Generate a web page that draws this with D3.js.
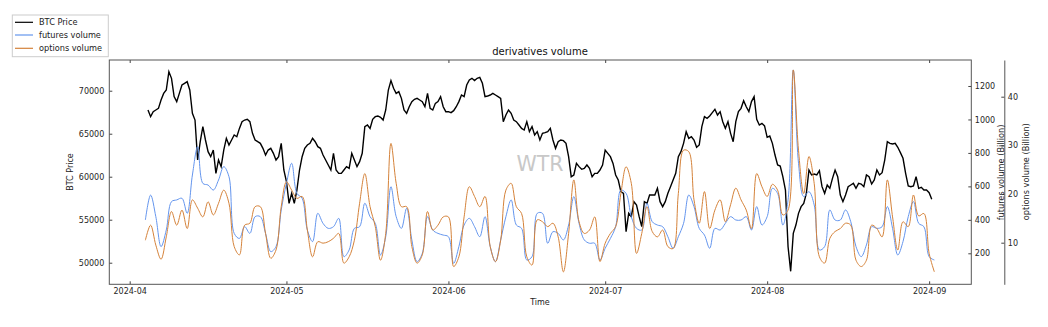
<!DOCTYPE html>
<html><head><meta charset="utf-8">
<script src="https://cdn.jsdelivr.net/npm/d3@7"></script>
<style>body{margin:0;background:#fff;} text{font-family:"DejaVu Sans",sans-serif;}</style>
</head><body><svg id="c" width="1048" height="327"></svg>
<script>
// ---- data ----
const priceStart = "2024-04-04T12:00:00Z";   // 12-hour samples
const priceStepHours = 12;
const btcPrice = [
67760,66980,67560,67760,67950,68920,69690,70080,72210,71440,
69310,68730,69690,70660,70860,71050,70080,67370,66590,61940,
64070,65820,64270,62910,62330,63100,60390,61940,61170,63100,
64460,63690,64270,64850,64650,65620,66400,66590,66670,66400,
65040,64270,64070,63880,63300,62520,63100,63300,62720,61940,
62330,63880,60780,59420,56900,58070,56900,58450,60780,62330,
63300,63690,63880,64460,64070,63490,63300,62520,61940,61360,
60780,62720,60780,60390,60390,60780,61170,60970,62720,61940,
61170,61750,62720,65820,66010,65620,66670,66980,67060,66900,
66590,67760,70080,71170,70280,69690,69890,69110,67760,67370,
68140,68730,69000,69110,68920,68730,68140,69690,67950,67760,
68530,68730,69310,68140,67560,67560,67450,67680,68140,68730,
69500,69310,70660,71240,71440,71170,71440,71550,70860,69310,
69380,69500,69690,69500,69310,69110,66400,67170,67760,67370,
66590,66400,66010,65620,65430,66400,65240,65820,64850,65240,
64270,65040,65120,65240,65620,64270,63300,64070,64270,64190,
63880,62330,60000,60200,61550,61170,60860,60970,61360,60970,
60000,60390,60390,60780,61360,63100,62720,62330,61550,60200,
59620,58260,58070,53610,55740,55350,57100,56710,55350,54190,
57100,56900,57870,57870,57870,58650,57100,56520,57100,58070,
58840,59620,60390,62330,62910,63880,65240,64460,64650,64270,
63420,63690,65820,66980,66790,67060,67450,67840,67170,67560,
66400,65620,66400,65040,64070,66400,67560,67950,68840,68140,
67560,68730,69310,66670,66010,66210,65900,64580,64730,63880,
62520,61360,61240,60000,58450,51860,49000,53410,54380,55740,
56520,56900,58070,60780,60200,60310,60200,60700,58840,58070,
59040,58650,59810,60780,60000,57870,57100,57870,58840,59040,
59230,58650,59230,59150,58840,60200,60000,59150,59620,60780,
60200,60470,61940,64070,63880,63800,63880,63420,62800,62140,
60390,58920,58840,58920,60000,58650,58760,58450,58450,58140,
57370];

const volStart = "2024-04-04T00:00:00Z";     // daily samples
const volStepHours = 24;
const futuresVolume = [
399,548,419,240,339,509,519,529,439,668,837,618,608,578,638,718,658,319,289,359,
319,419,419,319,210,240,459,618,738,558,529,339,270,439,379,349,359,409,
180,220,349,359,499,419,379,190,299,598,419,349,469,280,150,200,419,339,319,309,
299,140,240,369,409,359,299,419,240,150,280,419,519,369,349,160,180,439,
439,260,329,319,280,369,539,379,280,260,260,160,230,289,359,578,558,419,349,339,
499,389,369,359,299,230,299,379,548,479,349,309,230,349,339,379,419,399,
399,419,339,479,369,419,588,558,369,519,1296,738,539,568,489,220,240,459,399,399,
459,389,240,180,250,359,349,359,479,349,190,270,419,509,379,359,180,160];
const optionsVolume = [
10.5,13.6,9.5,6.6,11.2,16.4,13.6,16.7,12.9,18.8,17.1,15.3,18.4,15.7,18.1,20.8,18.1,9.2,7.5,13.6,
14.0,17.4,17.4,11.9,6.8,8.5,17.4,22.5,20.8,19.1,19.5,12.6,7.1,10.2,9.9,10.2,10.9,11.9,
5.8,7.1,10.5,18.1,24.2,17.4,13.3,6.4,11.9,30.4,22.2,17.4,17.4,9.2,5.8,7.5,16.4,12.6,13.6,15.3,
15.3,5.1,7.1,15.3,21.5,19.5,17.4,19.5,9.2,6.1,10.5,20.8,22.2,17.4,16.0,7.1,5.4,14.7,
14.3,13.3,14.0,11.2,4.0,11.9,22.9,14.3,11.9,12.6,15.3,6.1,9.9,11.9,13.3,20.1,25.6,22.2,7.8,11.9,
17.4,12.3,11.2,12.6,9.2,8.8,20.1,29.0,28.7,18.8,14.0,20.5,12.9,16.7,18.8,14.3,17.8,21.2,
18.8,16.7,12.9,24.2,21.5,19.5,22.0,20.8,15.7,16.7,45.5,29.0,20.1,27.7,22.2,7.1,5.8,10.9,12.3,12.9,
14.0,13.6,6.4,5.1,6.4,13.6,12.9,11.2,22.9,15.3,8.5,14.3,13.3,19.8,15.5,16.0,7.8,4.0];

const xTickLabels = ["2024-04","2024-05","2024-06","2024-07","2024-08","2024-09"];
const priceTicks = [50000,55000,60000,65000,70000];
const futuresTicks = [200,400,600,800,1000,1200];
const optionsTicks = [10,20,30,40];
const legendLabels = ["BTC Price","futures volume","options volume"];

// ---- layout ----
const L = 109.3, R = 971.3, T = 60, B = 284.3;
const colBTC = "#000000", colFut = "#6495ED", colOpt = "#d4823a";
const svg = d3.select("#c");

const t0 = new Date(priceStart).getTime();
const v0 = new Date(volStart).getTime();
const priceData = btcPrice.map((v,i)=>({d:new Date(t0+i*priceStepHours*3600e3), v}));
const futData = futuresVolume.map((v,i)=>({d:new Date(v0+i*volStepHours*3600e3), v}));
const optData = optionsVolume.map((v,i)=>({d:new Date(v0+i*volStepHours*3600e3), v}));

const x = d3.scaleUtc().domain([new Date("2024-03-28T02:18:00Z"), new Date("2024-09-09T01:40:00Z")]).range([L,R]);
const yP = d3.scaleLinear().domain([47490,73570]).range([B,T]);
const yF = d3.scaleLinear().domain([14.7,1355.4]).range([B,T]);
const yO = d3.scaleLinear().domain([1.45,47.54]).range([B,T]);

// lines
svg.append("clipPath").attr("id","clp").append("rect").attr("x",L).attr("y",T).attr("width",R-L).attr("height",B-T);
const g = svg.append("g").attr("clip-path","url(#clp)");
g.append("path").datum(priceData).attr("fill","none").attr("stroke",colBTC).attr("stroke-width",1.4)
  .attr("stroke-linejoin","miter").attr("d",d3.line().x(d=>x(d.d)).y(d=>yP(d.v)));
g.append("path").datum(futData).attr("fill","none").attr("stroke",colFut).attr("stroke-width",1)
  .attr("d",d3.line().curve(d3.curveCatmullRom.alpha(0.5)).x(d=>x(d.d)).y(d=>yF(d.v)));
g.append("path").datum(optData).attr("fill","none").attr("stroke",colOpt).attr("stroke-width",1)
  .attr("d",d3.line().curve(d3.curveCatmullRom.alpha(0.5)).x(d=>x(d.d)).y(d=>yO(d.v)));

// watermark
svg.append("text").attr("x",540).attr("y",171).attr("text-anchor","middle").attr("font-size",20.5)
  .attr("fill","#c8c8c8").text("WTR");

// axes
const tickDates = xTickLabels.map(s=>new Date(s+"-01T00:00:00Z"));
function style(sel){
  sel.selectAll("text").attr("font-size",8).attr("fill","#262626").attr("font-family","DejaVu Sans, sans-serif");
  sel.selectAll("line").attr("stroke","#444");
}
svg.append("g").attr("transform",`translate(0,${B})`)
  .call(d3.axisBottom(x).tickValues(tickDates).tickFormat(d3.utcFormat("%Y-%m")).tickSize(-3).tickPadding(4))
  .call(s=>s.select(".domain").remove()).call(style);
svg.append("g").attr("transform",`translate(0,${T})`)
  .call(d3.axisTop(x).tickValues(tickDates).tickFormat("").tickSize(-3))
  .call(s=>s.select(".domain").remove()).call(style);
svg.append("g").attr("transform",`translate(${L},0)`)
  .call(d3.axisLeft(yP).tickValues(priceTicks).tickFormat(d3.format("d")).tickSize(-3).tickPadding(5))
  .call(s=>s.select(".domain").remove()).call(style);
svg.append("g").attr("transform",`translate(${R},0)`)
  .call(d3.axisRight(yF).tickValues(futuresTicks).tickFormat(d3.format("d")).tickSize(-3).tickPadding(3.5))
  .call(s=>s.select(".domain").remove()).call(style);
const ao = svg.append("g").attr("transform",`translate(1004.3,0)`)
  .call(d3.axisRight(yO).tickValues(optionsTicks).tickFormat(d3.format("d")).tickSize(-3).tickSizeOuter(0).tickPadding(3.5))
  .call(style);
ao.select(".domain").attr("stroke","#555").attr("stroke-width",1);

// frame
svg.append("rect").attr("x",L).attr("y",T).attr("width",R-L).attr("height",B-T)
  .attr("fill","none").attr("stroke","#555").attr("stroke-width",1);

// labels
svg.append("text").attr("x",540).attr("y",55).attr("text-anchor","middle").attr("font-size",10).attr("fill","#111").text("derivatives volume");
svg.append("text").attr("x",540).attr("y",304.5).attr("text-anchor","middle").attr("font-size",8).attr("fill","#222").text("Time");
svg.append("text").attr("transform","translate(73.3,172) rotate(-90)").attr("text-anchor","middle").attr("font-size",8).attr("fill","#222").text("BTC Price");
svg.append("text").attr("transform","translate(1004,172.4) rotate(-90)").attr("text-anchor","middle").attr("font-size",8.2).attr("fill","#222").text("futures volume (Billion)");
svg.append("text").attr("transform","translate(1029,171.7) rotate(-90)").attr("text-anchor","middle").attr("font-size",8.2).attr("fill","#222").text("options volume (Billion)");

// legend
const lg = svg.append("g");
lg.append("rect").attr("x",12.3).attr("y",15).attr("width",96).attr("height",41.7).attr("fill","#fff").attr("stroke","#ccc").attr("stroke-width",1);
const lcols = [colBTC,colFut,colOpt];
const rowsY = [22.3,35,48.3];
legendLabels.forEach((t,i)=>{
  lg.append("line").attr("x1",15).attr("x2",33).attr("y1",rowsY[i]).attr("y2",rowsY[i]).attr("stroke",lcols[i]).attr("stroke-width",1.2);
  lg.append("text").attr("x",39).attr("y",rowsY[i]+3).attr("font-size",8.2).attr("fill","#222").text(t);
});
</script></body></html>
